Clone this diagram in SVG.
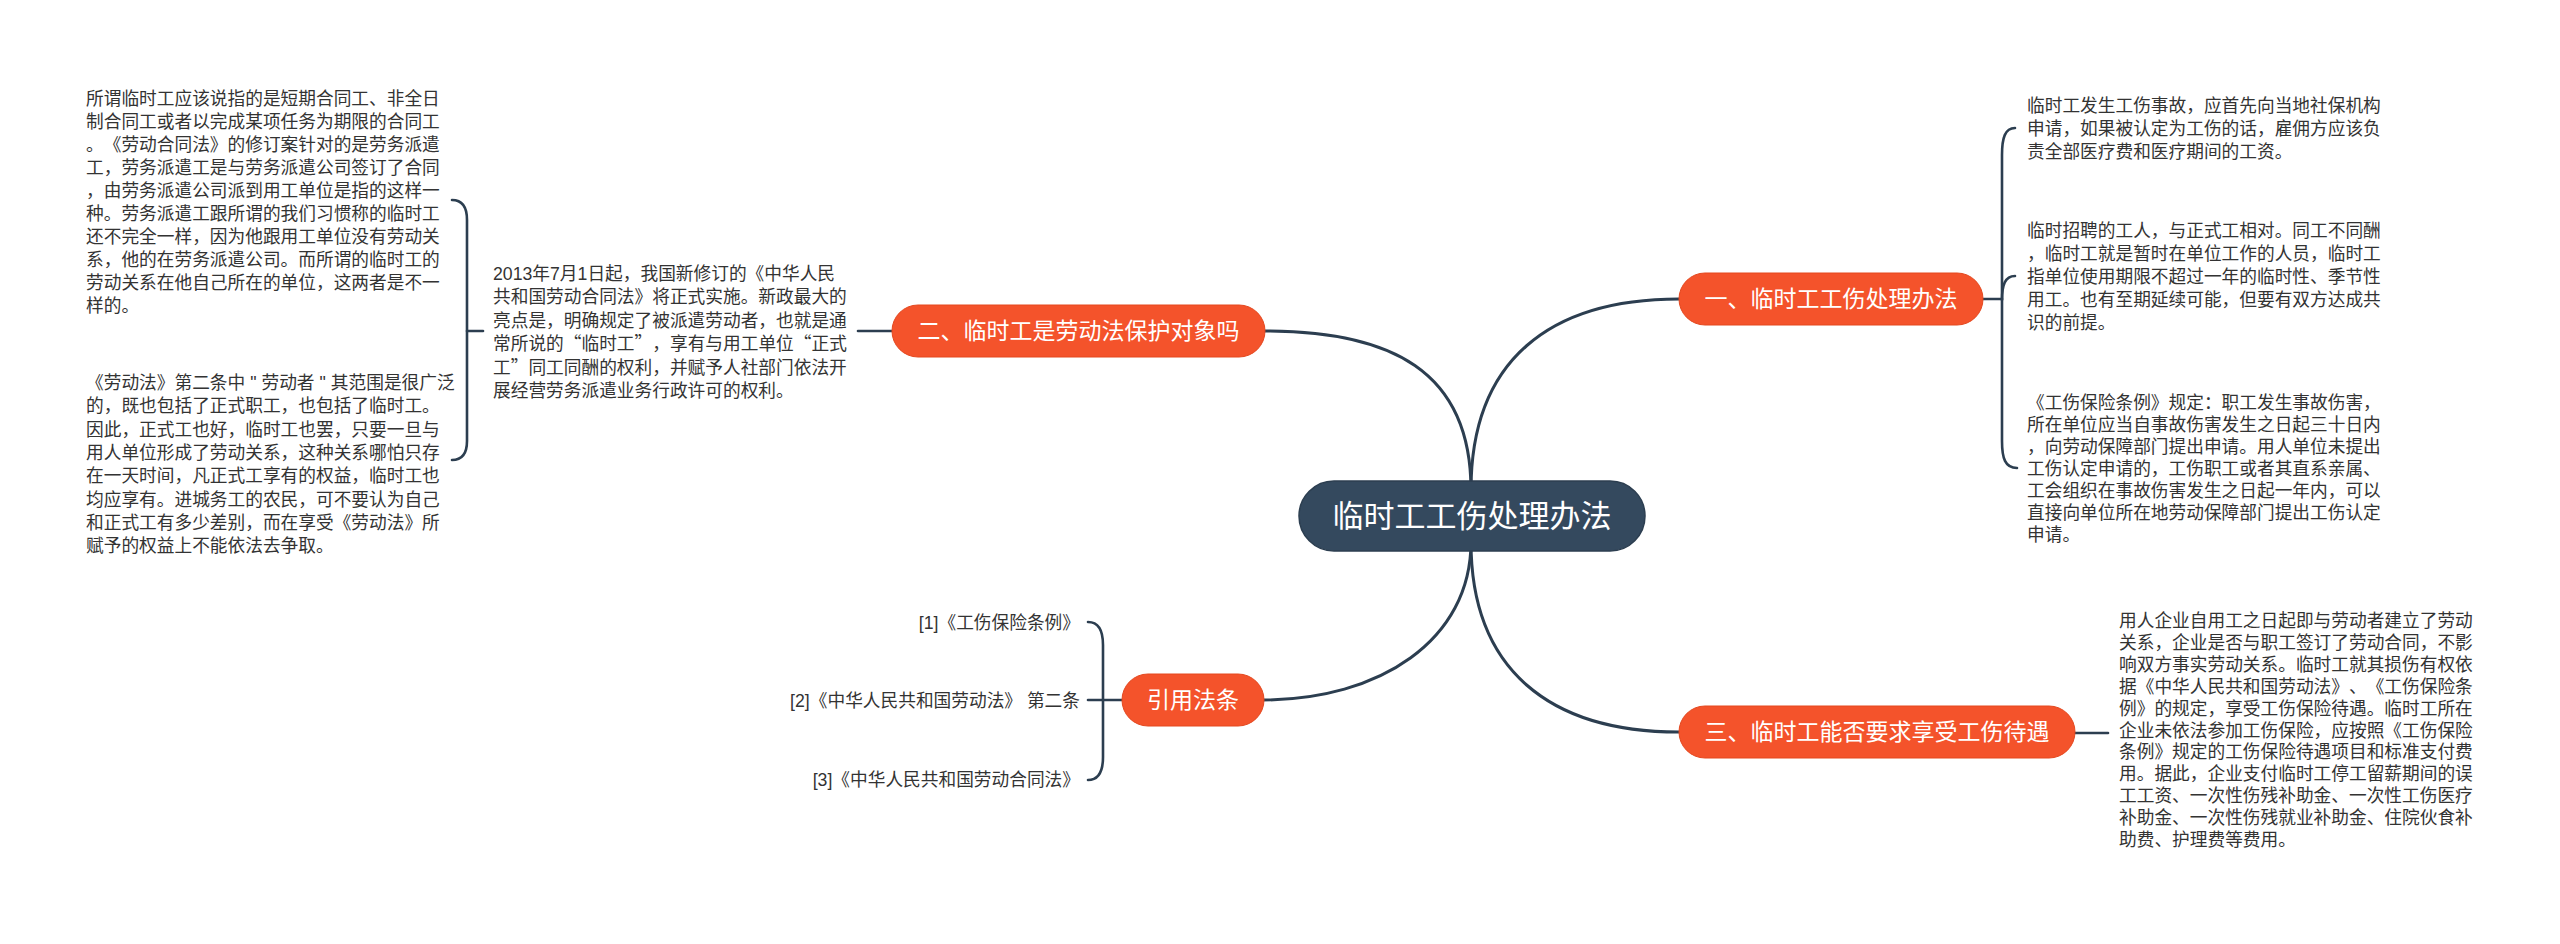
<svg xmlns="http://www.w3.org/2000/svg" width="2560" height="944" viewBox="0 0 2560 944">
<style>
.bg{fill:#ffffff}
.ln{fill:none;stroke:#2c3e50;stroke-width:3;stroke-linecap:round}
.br{fill:none;stroke:#2c3e50;stroke-width:2.6;stroke-linecap:round}
.main{fill:#f4532b;stroke:#e4481f;stroke-width:1}
.root{fill:#34495e;stroke:#2c3e50;stroke-width:1.5}
.tt{font-family:"Liberation Sans","Noto Sans CJK SC",sans-serif;fill:#ffffff;text-anchor:middle;text-spacing-trim:space-all}
.t{font-family:"Liberation Sans","Noto Sans CJK SC",sans-serif;font-size:17.7px;fill:#333333;text-spacing-trim:space-all}
.cj{font-family:"Noto Sans CJK SC",sans-serif}
</style>
<rect class="bg" x="0" y="0" width="2560" height="944"/>
<g id="connectors">
<path class="ln" d="M 1471 490 C 1471 360, 1550 299, 1679 299"/>
<path class="ln" d="M 1471 490 C 1471 370, 1390 331, 1265 331"/>
<path class="ln" d="M 1471 542 C 1471 670, 1550 732, 1679 732"/>
<path class="ln" d="M 1471 542 C 1471 640, 1380 700, 1262 700"/>
<path class="br" d="M 1983 299 L 2002 299"/>
<path class="br" d="M 2015 128 C 2005 128, 2002 138, 2002 155 L 2002 441 C 2002 458, 2005 468, 2017 468"/>
<path class="br" d="M 2002 300 C 2002 285, 2005 276, 2015 276"/>
<path class="br" d="M 892 331 L 858 331"/>
<path class="br" d="M 483 331 L 467 331"/>
<path class="br" d="M 452 200 C 462 200, 467 206, 467 220 L 467 441 C 467 454, 462 460, 452 460"/>
<path class="br" d="M 1122 700 L 1088 700"/>
<path class="br" d="M 1088 622 C 1098 622, 1103 630, 1103 645 L 1103 757 C 1103 772, 1098 780, 1088 780"/>
<path class="br" d="M 2075 733 L 2108 733"/>
</g>
<g id="root">
<rect class="root" x="1299" y="481" width="346" height="70" rx="35"/>
<text class="tt" x="1472" y="527" font-size="31">临时工工伤处理办法</text>
</g>
<g id="n1">
<rect class="main" x="1679" y="273" width="304" height="52" rx="26"/>
<text class="tt" x="1831" y="307" font-size="23">一、临时工工伤处理办法</text>
</g>
<g id="n2">
<rect class="main" x="892" y="305" width="373" height="52" rx="26"/>
<text class="tt" x="1078.5" y="339" font-size="23">二、临时工是劳动法保护对象吗</text>
</g>
<g id="n3">
<rect class="main" x="1679" y="706" width="396" height="52" rx="26"/>
<text class="tt" x="1877" y="740" font-size="23">三、临时工能否要求享受工伤待遇</text>
</g>
<g id="n4">
<rect class="main" x="1122" y="674" width="142" height="52" rx="26"/>
<text class="tt" x="1193" y="708" font-size="23">引用法条</text>
</g>
<g id="n1c1">
<text class="t" x="2027" y="112"><tspan x="2027">临时工发生工伤事故，应首先向当地社保机构</tspan><tspan x="2027" dy="23">申请，如果被认定为工伤的话，雇佣方应该负</tspan><tspan x="2027" dy="23">责全部医疗费和医疗期间的工资。</tspan></text>
</g>
<g id="n1c2">
<text class="t" x="2027" y="236.5"><tspan x="2027">临时招聘的工人，与正式工相对。同工不同酬</tspan><tspan x="2027" dy="23.1">，临时工就是暂时在单位工作的人员，临时工</tspan><tspan x="2027" dy="23.1">指单位使用期限不超过一年的临时性、季节性</tspan><tspan x="2027" dy="23.1">用工。也有至期延续可能，但要有双方达成共</tspan><tspan x="2027" dy="23.1">识的前提。</tspan></text>
</g>
<g id="n1c3">
<text class="t" x="2027" y="409"><tspan x="2027">《工伤保险条例》规定：职工发生事故伤害，</tspan><tspan x="2027" dy="22">所在单位应当自事故伤害发生之日起三十日内</tspan><tspan x="2027" dy="22">，向劳动保障部门提出申请。用人单位未提出</tspan><tspan x="2027" dy="22">工伤认定申请的，工伤职工或者其直系亲属、</tspan><tspan x="2027" dy="22">工会组织在事故伤害发生之日起一年内，可以</tspan><tspan x="2027" dy="22">直接向单位所在地劳动保障部门提出工伤认定</tspan><tspan x="2027" dy="22">申请。</tspan></text>
</g>
<g id="n2c1">
<text class="t" x="493" y="280"><tspan x="493">2013年7月1日起，我国新修订的《中华人民</tspan><tspan x="493" dy="23.4">共和国劳动合同法》将正式实施。新政最大的</tspan><tspan x="493" dy="23.4">亮点是，明确规定了被派遣劳动者，也就是通</tspan><tspan x="493" dy="23.4">常所说的<tspan class="cj">“</tspan>临时工<tspan class="cj">”</tspan>，享有与用工单位<tspan class="cj">“</tspan>正式</tspan><tspan x="493" dy="23.4">工<tspan class="cj">”</tspan>同工同酬的权利，并赋予人社部门依法开</tspan><tspan x="493" dy="23.4">展经营劳务派遣业务行政许可的权利。</tspan></text>
</g>
<g id="n2c2">
<text class="t" x="86" y="105"><tspan x="86">所谓临时工应该说指的是短期合同工、非全日</tspan><tspan x="86" dy="23">制合同工或者以完成某项任务为期限的合同工</tspan><tspan x="86" dy="23">。《劳动合同法》的修订案针对的是劳务派遣</tspan><tspan x="86" dy="23">工，劳务派遣工是与劳务派遣公司签订了合同</tspan><tspan x="86" dy="23">，由劳务派遣公司派到用工单位是指的这样一</tspan><tspan x="86" dy="23">种。劳务派遣工跟所谓的我们习惯称的临时工</tspan><tspan x="86" dy="23">还不完全一样，因为他跟用工单位没有劳动关</tspan><tspan x="86" dy="23">系，他的在劳务派遣公司。而所谓的临时工的</tspan><tspan x="86" dy="23">劳动关系在他自己所在的单位，这两者是不一</tspan><tspan x="86" dy="23">样的。</tspan></text>
</g>
<g id="n2c3">
<text class="t" x="86" y="389"><tspan x="86">《劳动法》第二条中<tspan dx="5">"</tspan><tspan dx="5">劳动者</tspan><tspan dx="5">"</tspan><tspan dx="5">其范围是很广泛</tspan></tspan><tspan x="86" dy="23.3">的，既也包括了正式职工，也包括了临时工。</tspan><tspan x="86" dy="23.3">因此，正式工也好，临时工也罢，只要一旦与</tspan><tspan x="86" dy="23.3">用人单位形成了劳动关系，这种关系哪怕只存</tspan><tspan x="86" dy="23.3">在一天时间，凡正式工享有的权益，临时工也</tspan><tspan x="86" dy="23.3">均应享有。进城务工的农民，可不要认为自己</tspan><tspan x="86" dy="23.3">和正式工有多少差别，而在享受《劳动法》所</tspan><tspan x="86" dy="23.3">赋予的权益上不能依法去争取。</tspan></text>
</g>
<g id="n3c1">
<text class="t" x="2119" y="627"><tspan x="2119">用人企业自用工之日起即与劳动者建立了劳动</tspan><tspan x="2119" dy="21.9">关系，企业是否与职工签订了劳动合同，不影</tspan><tspan x="2119" dy="21.9">响双方事实劳动关系。临时工就其损伤有权依</tspan><tspan x="2119" dy="21.9">据《中华人民共和国劳动法》、《工伤保险条</tspan><tspan x="2119" dy="21.9">例》的规定，享受工伤保险待遇。临时工所在</tspan><tspan x="2119" dy="21.9">企业未依法参加工伤保险，应按照《工伤保险</tspan><tspan x="2119" dy="21.9">条例》规定的工伤保险待遇项目和标准支付费</tspan><tspan x="2119" dy="21.9">用。据此，企业支付临时工停工留薪期间的误</tspan><tspan x="2119" dy="21.9">工工资、一次性伤残补助金、一次性工伤医疗</tspan><tspan x="2119" dy="21.9">补助金、一次性伤残就业补助金、住院伙食补</tspan><tspan x="2119" dy="21.9">助费、护理费等费用。</tspan></text>
</g>
<g id="n4c1">
<text class="t" x="1080" y="629" text-anchor="end">[1]《工伤保险条例》</text>
</g>
<g id="n4c2">
<text class="t" x="1080" y="707" text-anchor="end">[2]《中华人民共和国劳动法》 第二条</text>
</g>
<g id="n4c3">
<text class="t" x="1080" y="786" text-anchor="end">[3]《中华人民共和国劳动合同法》</text>
</g>
</svg>
